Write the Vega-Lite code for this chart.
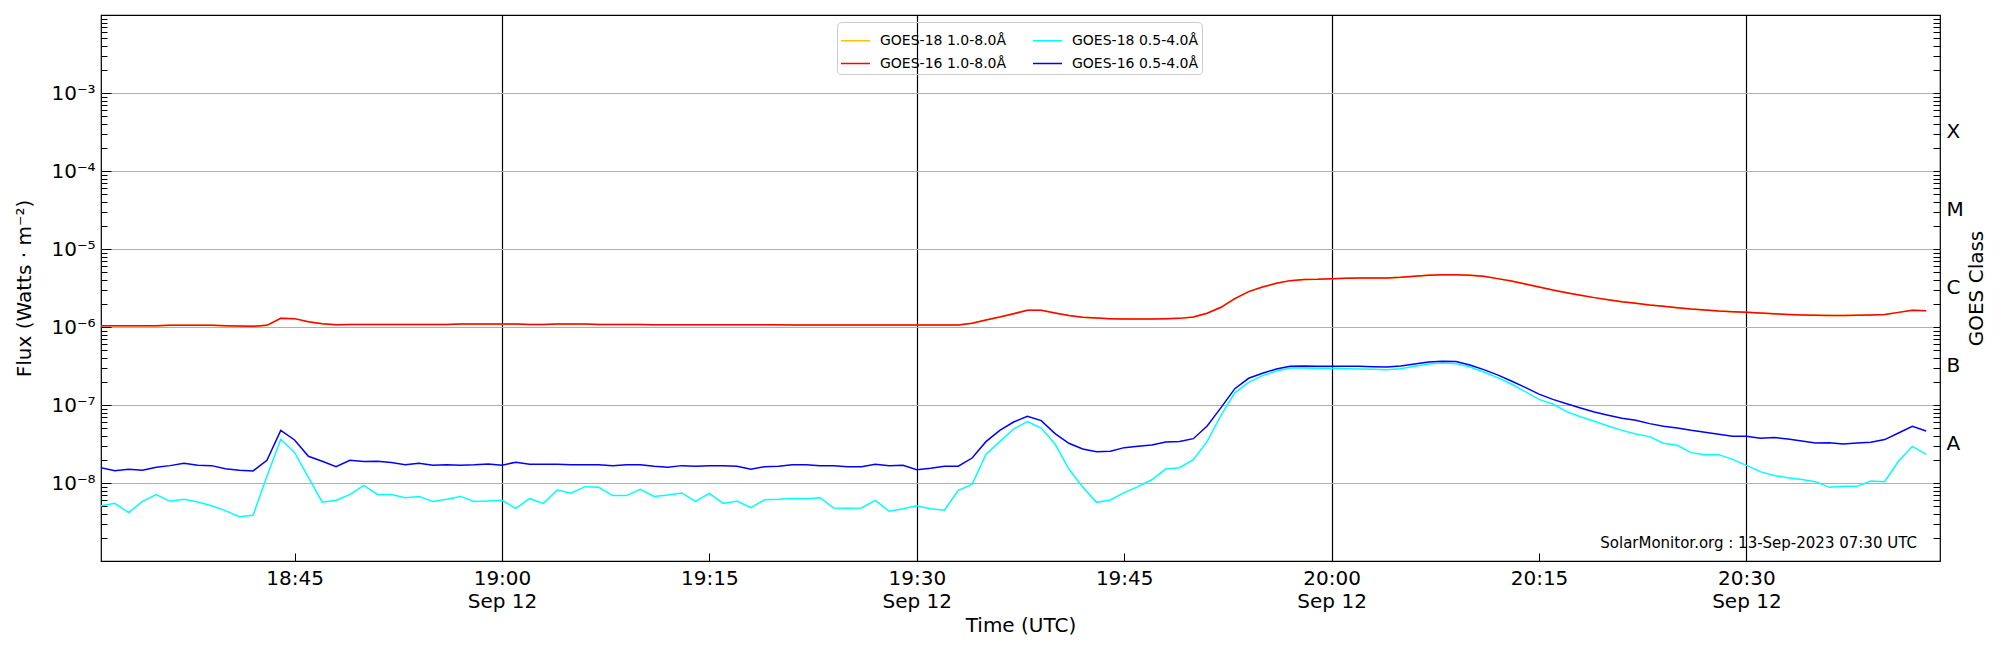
{
  "$schema": "https://vega.github.io/schema/vega-lite/v6.json",
  "width": 1839,
  "height": 546,
  "autosize": "none",
  "padding": {"left": 101, "top": 15, "right": 60, "bottom": 89},
  "background": "white",
  "config": {
    "font": "DejaVu Sans",
    "view": {"stroke": "black", "strokeWidth": 1.2},
    "axis": {
      "labelFont": "DejaVu Sans", "titleFont": "DejaVu Sans",
      "labelFontSize": 20, "titleFontSize": 20, "titleFontWeight": "normal",
      "labelColor": "black", "titleColor": "black", "tickColor": "black",
      "domain": false, "labelOverlap": false, "labelFlush": false
    }
  },
  "data": {
    "format": {"parse": {"t": "utc:'%Y-%m-%d %H:%M'"}},
    "values": [
      {"t":"2023-09-12 18:31","l16":1.04e-6,"s16":1.57e-8,"s18":5.12e-9},
      {"t":"2023-09-12 18:32","l16":1.04e-6,"s16":1.44e-8,"s18":5.48e-9},
      {"t":"2023-09-12 18:33","l16":1.04e-6,"s16":1.50e-8,"s18":4.17e-9},
      {"t":"2023-09-12 18:34","l16":1.04e-6,"s16":1.46e-8,"s18":5.82e-9},
      {"t":"2023-09-12 18:35","l16":1.04e-6,"s16":1.59e-8,"s18":7.08e-9},
      {"t":"2023-09-12 18:36","l16":1.05e-6,"s16":1.67e-8,"s18":5.82e-9},
      {"t":"2023-09-12 18:37","l16":1.05e-6,"s16":1.79e-8,"s18":6.18e-9},
      {"t":"2023-09-12 18:38","l16":1.05e-6,"s16":1.69e-8,"s18":5.72e-9},
      {"t":"2023-09-12 18:39","l16":1.05e-6,"s16":1.67e-8,"s18":5.10e-9},
      {"t":"2023-09-12 18:40","l16":1.04e-6,"s16":1.52e-8,"s18":4.42e-9},
      {"t":"2023-09-12 18:41","l16":1.03e-6,"s16":1.46e-8,"s18":3.70e-9},
      {"t":"2023-09-12 18:42","l16":1.02e-6,"s16":1.43e-8,"s18":3.85e-9},
      {"t":"2023-09-12 18:43","l16":1.05e-6,"s16":1.95e-8,"s18":1.22e-8},
      {"t":"2023-09-12 18:44","l16":1.29e-6,"s16":4.73e-8,"s18":3.63e-8},
      {"t":"2023-09-12 18:45","l16":1.28e-6,"s16":3.56e-8,"s18":2.47e-8},
      {"t":"2023-09-12 18:46","l16":1.17e-6,"s16":2.20e-8,"s18":1.18e-8},
      {"t":"2023-09-12 18:47","l16":1.10e-6,"s16":1.90e-8,"s18":5.68e-9},
      {"t":"2023-09-12 18:48","l16":1.07e-6,"s16":1.62e-8,"s18":6.00e-9},
      {"t":"2023-09-12 18:49","l16":1.08e-6,"s16":1.95e-8,"s18":7.08e-9},
      {"t":"2023-09-12 18:50","l16":1.08e-6,"s16":1.88e-8,"s18":9.33e-9},
      {"t":"2023-09-12 18:51","l16":1.08e-6,"s16":1.90e-8,"s18":7.13e-9},
      {"t":"2023-09-12 18:52","l16":1.08e-6,"s16":1.83e-8,"s18":7.13e-9},
      {"t":"2023-09-12 18:53","l16":1.08e-6,"s16":1.71e-8,"s18":6.49e-9},
      {"t":"2023-09-12 18:54","l16":1.08e-6,"s16":1.79e-8,"s18":6.73e-9},
      {"t":"2023-09-12 18:55","l16":1.08e-6,"s16":1.69e-8,"s18":5.78e-9},
      {"t":"2023-09-12 18:56","l16":1.08e-6,"s16":1.72e-8,"s18":6.18e-9},
      {"t":"2023-09-12 18:57","l16":1.09e-6,"s16":1.69e-8,"s18":6.73e-9},
      {"t":"2023-09-12 18:58","l16":1.09e-6,"s16":1.71e-8,"s18":5.78e-9},
      {"t":"2023-09-12 18:59","l16":1.09e-6,"s16":1.75e-8,"s18":5.88e-9},
      {"t":"2023-09-12 19:00","l16":1.09e-6,"s16":1.69e-8,"s18":6.00e-9},
      {"t":"2023-09-12 19:01","l16":1.09e-6,"s16":1.85e-8,"s18":4.73e-9},
      {"t":"2023-09-12 19:02","l16":1.08e-6,"s16":1.74e-8,"s18":6.29e-9},
      {"t":"2023-09-12 19:03","l16":1.08e-6,"s16":1.74e-8,"s18":5.48e-9},
      {"t":"2023-09-12 19:04","l16":1.09e-6,"s16":1.74e-8,"s18":8.13e-9},
      {"t":"2023-09-12 19:05","l16":1.09e-6,"s16":1.72e-8,"s18":7.38e-9},
      {"t":"2023-09-12 19:06","l16":1.09e-6,"s16":1.71e-8,"s18":8.98e-9},
      {"t":"2023-09-12 19:07","l16":1.08e-6,"s16":1.72e-8,"s18":8.80e-9},
      {"t":"2023-09-12 19:08","l16":1.08e-6,"s16":1.67e-8,"s18":6.89e-9},
      {"t":"2023-09-12 19:09","l16":1.08e-6,"s16":1.71e-8,"s18":6.89e-9},
      {"t":"2023-09-12 19:10","l16":1.08e-6,"s16":1.71e-8,"s18":8.30e-9},
      {"t":"2023-09-12 19:11","l16":1.07e-6,"s16":1.64e-8,"s18":6.73e-9},
      {"t":"2023-09-12 19:12","l16":1.07e-6,"s16":1.59e-8,"s18":7.00e-9},
      {"t":"2023-09-12 19:13","l16":1.07e-6,"s16":1.67e-8,"s18":7.45e-9},
      {"t":"2023-09-12 19:14","l16":1.07e-6,"s16":1.64e-8,"s18":5.82e-9},
      {"t":"2023-09-12 19:15","l16":1.07e-6,"s16":1.67e-8,"s18":7.38e-9},
      {"t":"2023-09-12 19:16","l16":1.07e-6,"s16":1.66e-8,"s18":5.48e-9},
      {"t":"2023-09-12 19:17","l16":1.07e-6,"s16":1.64e-8,"s18":5.88e-9},
      {"t":"2023-09-12 19:18","l16":1.07e-6,"s16":1.50e-8,"s18":4.83e-9},
      {"t":"2023-09-12 19:19","l16":1.07e-6,"s16":1.62e-8,"s18":6.10e-9},
      {"t":"2023-09-12 19:20","l16":1.07e-6,"s16":1.64e-8,"s18":6.18e-9},
      {"t":"2023-09-12 19:21","l16":1.06e-6,"s16":1.71e-8,"s18":6.35e-9},
      {"t":"2023-09-12 19:22","l16":1.06e-6,"s16":1.72e-8,"s18":6.29e-9},
      {"t":"2023-09-12 19:23","l16":1.06e-6,"s16":1.67e-8,"s18":6.49e-9},
      {"t":"2023-09-12 19:24","l16":1.06e-6,"s16":1.66e-8,"s18":4.78e-9},
      {"t":"2023-09-12 19:25","l16":1.06e-6,"s16":1.61e-8,"s18":4.73e-9},
      {"t":"2023-09-12 19:26","l16":1.06e-6,"s16":1.62e-8,"s18":4.78e-9},
      {"t":"2023-09-12 19:27","l16":1.06e-6,"s16":1.74e-8,"s18":6.00e-9},
      {"t":"2023-09-12 19:28","l16":1.06e-6,"s16":1.67e-8,"s18":4.34e-9},
      {"t":"2023-09-12 19:29","l16":1.06e-6,"s16":1.69e-8,"s18":4.68e-9},
      {"t":"2023-09-12 19:30","l16":1.06e-6,"s16":1.48e-8,"s18":5.12e-9},
      {"t":"2023-09-12 19:31","l16":1.06e-6,"s16":1.55e-8,"s18":4.68e-9},
      {"t":"2023-09-12 19:32","l16":1.06e-6,"s16":1.64e-8,"s18":4.47e-9},
      {"t":"2023-09-12 19:33","l16":1.06e-6,"s16":1.64e-8,"s18":8.05e-9},
      {"t":"2023-09-12 19:34","l16":1.12e-6,"s16":2.09e-8,"s18":9.61e-9},
      {"t":"2023-09-12 19:35","l16":1.23e-6,"s16":3.39e-8,"s18":2.33e-8},
      {"t":"2023-09-12 19:36","l16":1.34e-6,"s16":4.73e-8,"s18":3.39e-8},
      {"t":"2023-09-12 19:37","l16":1.48e-6,"s16":6.05e-8,"s18":4.92e-8},
      {"t":"2023-09-12 19:38","l16":1.64e-6,"s16":7.16e-8,"s18":6.11e-8},
      {"t":"2023-09-12 19:39","l16":1.64e-6,"s16":6.30e-8,"s18":5.07e-8},
      {"t":"2023-09-12 19:40","l16":1.51e-6,"s16":4.29e-8,"s18":3.16e-8},
      {"t":"2023-09-12 19:41","l16":1.40e-6,"s16":3.23e-8,"s18":1.51e-8},
      {"t":"2023-09-12 19:42","l16":1.33e-6,"s16":2.73e-8,"s18":8.89e-9},
      {"t":"2023-09-12 19:43","l16":1.30e-6,"s16":2.52e-8,"s18":5.65e-9},
      {"t":"2023-09-12 19:44","l16":1.28e-6,"s16":2.56e-8,"s18":6.05e-9},
      {"t":"2023-09-12 19:45","l16":1.27e-6,"s16":2.84e-8,"s18":7.52e-9},
      {"t":"2023-09-12 19:46","l16":1.27e-6,"s16":2.95e-8,"s18":8.98e-9},
      {"t":"2023-09-12 19:47","l16":1.27e-6,"s16":3.07e-8,"s18":1.10e-8},
      {"t":"2023-09-12 19:48","l16":1.28e-6,"s16":3.36e-8,"s18":1.51e-8},
      {"t":"2023-09-12 19:49","l16":1.29e-6,"s16":3.40e-8,"s18":1.57e-8},
      {"t":"2023-09-12 19:50","l16":1.34e-6,"s16":3.70e-8,"s18":1.99e-8},
      {"t":"2023-09-12 19:51","l16":1.50e-6,"s16":5.38e-8,"s18":3.42e-8},
      {"t":"2023-09-12 19:52","l16":1.79e-6,"s16":9.25e-8,"s18":7.38e-8},
      {"t":"2023-09-12 19:53","l16":2.31e-6,"s16":1.62e-7,"s18":1.43e-7},
      {"t":"2023-09-12 19:54","l16":2.84e-6,"s16":2.20e-7,"s18":1.95e-7},
      {"t":"2023-09-12 19:55","l16":3.26e-6,"s16":2.55e-7,"s18":2.38e-7},
      {"t":"2023-09-12 19:56","l16":3.63e-6,"s16":2.90e-7,"s18":2.73e-7},
      {"t":"2023-09-12 19:57","l16":3.93e-6,"s16":3.13e-7,"s18":2.98e-7},
      {"t":"2023-09-12 19:58","l16":4.05e-6,"s16":3.17e-7,"s18":2.98e-7},
      {"t":"2023-09-12 19:59","l16":4.09e-6,"s16":3.13e-7,"s18":2.95e-7},
      {"t":"2023-09-12 20:00","l16":4.17e-6,"s16":3.13e-7,"s18":2.95e-7},
      {"t":"2023-09-12 20:01","l16":4.21e-6,"s16":3.13e-7,"s18":2.92e-7},
      {"t":"2023-09-12 20:02","l16":4.25e-6,"s16":3.13e-7,"s18":2.89e-7},
      {"t":"2023-09-12 20:03","l16":4.25e-6,"s16":3.10e-7,"s18":2.87e-7},
      {"t":"2023-09-12 20:04","l16":4.25e-6,"s16":3.07e-7,"s18":2.84e-7},
      {"t":"2023-09-12 20:05","l16":4.33e-6,"s16":3.17e-7,"s18":2.92e-7},
      {"t":"2023-09-12 20:06","l16":4.46e-6,"s16":3.36e-7,"s18":3.13e-7},
      {"t":"2023-09-12 20:07","l16":4.60e-6,"s16":3.56e-7,"s18":3.36e-7},
      {"t":"2023-09-12 20:08","l16":4.69e-6,"s16":3.63e-7,"s18":3.45e-7},
      {"t":"2023-09-12 20:09","l16":4.69e-6,"s16":3.60e-7,"s18":3.39e-7},
      {"t":"2023-09-12 20:10","l16":4.60e-6,"s16":3.26e-7,"s18":3.07e-7},
      {"t":"2023-09-12 20:11","l16":4.46e-6,"s16":2.84e-7,"s18":2.65e-7},
      {"t":"2023-09-12 20:12","l16":4.17e-6,"s16":2.43e-7,"s18":2.24e-7},
      {"t":"2023-09-12 20:13","l16":3.89e-6,"s16":2.03e-7,"s18":1.86e-7},
      {"t":"2023-09-12 20:14","l16":3.56e-6,"s16":1.68e-7,"s18":1.48e-7},
      {"t":"2023-09-12 20:15","l16":3.26e-6,"s16":1.38e-7,"s18":1.18e-7},
      {"t":"2023-09-12 20:16","l16":2.98e-6,"s16":1.18e-7,"s18":1.03e-7},
      {"t":"2023-09-12 20:17","l16":2.75e-6,"s16":1.04e-7,"s18":8.22e-8},
      {"t":"2023-09-12 20:18","l16":2.55e-6,"s16":9.16e-8,"s18":7.08e-8},
      {"t":"2023-09-12 20:19","l16":2.38e-6,"s16":8.13e-8,"s18":6.18e-8},
      {"t":"2023-09-12 20:20","l16":2.24e-6,"s16":7.38e-8,"s18":5.38e-8},
      {"t":"2023-09-12 20:21","l16":2.11e-6,"s16":6.75e-8,"s18":4.73e-8},
      {"t":"2023-09-12 20:22","l16":2.01e-6,"s16":6.36e-8,"s18":4.25e-8},
      {"t":"2023-09-12 20:23","l16":1.91e-6,"s16":5.77e-8,"s18":3.93e-8},
      {"t":"2023-09-12 20:24","l16":1.84e-6,"s16":5.33e-8,"s18":3.23e-8},
      {"t":"2023-09-12 20:25","l16":1.77e-6,"s16":5.07e-8,"s18":3.04e-8},
      {"t":"2023-09-12 20:26","l16":1.70e-6,"s16":4.73e-8,"s18":2.45e-8},
      {"t":"2023-09-12 20:27","l16":1.65e-6,"s16":4.46e-8,"s18":2.31e-8},
      {"t":"2023-09-12 20:28","l16":1.60e-6,"s16":4.21e-8,"s18":2.31e-8},
      {"t":"2023-09-12 20:29","l16":1.57e-6,"s16":3.97e-8,"s18":2.01e-8},
      {"t":"2023-09-12 20:30","l16":1.54e-6,"s16":3.97e-8,"s18":1.68e-8},
      {"t":"2023-09-12 20:31","l16":1.51e-6,"s16":3.74e-8,"s18":1.40e-8},
      {"t":"2023-09-12 20:32","l16":1.48e-6,"s16":3.84e-8,"s18":1.25e-8},
      {"t":"2023-09-12 20:33","l16":1.45e-6,"s16":3.66e-8,"s18":1.17e-8},
      {"t":"2023-09-12 20:34","l16":1.43e-6,"s16":3.45e-8,"s18":1.11e-8},
      {"t":"2023-09-12 20:35","l16":1.41e-6,"s16":3.26e-8,"s18":1.04e-8},
      {"t":"2023-09-12 20:36","l16":1.40e-6,"s16":3.29e-8,"s18":8.80e-9},
      {"t":"2023-09-12 20:37","l16":1.40e-6,"s16":3.16e-8,"s18":9.06e-9},
      {"t":"2023-09-12 20:38","l16":1.41e-6,"s16":3.26e-8,"s18":9.06e-9},
      {"t":"2023-09-12 20:39","l16":1.43e-6,"s16":3.33e-8,"s18":1.06e-8},
      {"t":"2023-09-12 20:40","l16":1.45e-6,"s16":3.60e-8,"s18":1.04e-8},
      {"t":"2023-09-12 20:41","l16":1.54e-6,"s16":4.38e-8,"s18":1.90e-8},
      {"t":"2023-09-12 20:42","l16":1.64e-6,"s16":5.33e-8,"s18":2.95e-8},
      {"t":"2023-09-12 20:43","l16":1.62e-6,"s16":4.64e-8,"s18":2.33e-8}
    ]
  },
  "layer": [
    {
      "mark": {"type": "line", "strokeWidth": 1.5, "clip": true},
      "encoding": {
        "x": {
          "field": "t", "type": "temporal",
          "scale": {"type": "utc", "domain": [
            {"year": 2023, "month": 9, "date": 12, "hours": 18, "minutes": 31, "utc": true},
            {"year": 2023, "month": 9, "date": 12, "hours": 20, "minutes": 44, "utc": true}
          ]},
          "axis": {
            "orient": "bottom",
            "values": [
              {"year": 2023, "month": 9, "date": 12, "hours": 18, "minutes": 45, "utc": true},
              {"year": 2023, "month": 9, "date": 12, "hours": 19, "minutes": 0, "utc": true},
              {"year": 2023, "month": 9, "date": 12, "hours": 19, "minutes": 15, "utc": true},
              {"year": 2023, "month": 9, "date": 12, "hours": 19, "minutes": 30, "utc": true},
              {"year": 2023, "month": 9, "date": 12, "hours": 19, "minutes": 45, "utc": true},
              {"year": 2023, "month": 9, "date": 12, "hours": 20, "minutes": 0, "utc": true},
              {"year": 2023, "month": 9, "date": 12, "hours": 20, "minutes": 15, "utc": true},
              {"year": 2023, "month": 9, "date": 12, "hours": 20, "minutes": 30, "utc": true}
            ],
            "grid": false,
            "tickSize": -8,
            "labelPadding": 15,
            "labelLineHeight": 23,
            "labelExpr": "[utcFormat(datum.value, '%H:%M'), utcminutes(datum.value) % 30 == 0 ? 'Sep 12' : '']",
            "title": "Time (UTC)",
            "titleY": 64,
            "titleBaseline": "middle"
          }
        },
        "y": {
          "field": "l16", "type": "quantitative",
          "scale": {"type": "log", "domain": [1e-9, 1e-2], "nice": false, "zero": false},
          "axis": {
            "orient": "left",
            "values": [1e-8, 1e-7, 1e-6, 1e-5, 1e-4, 1e-3],
            "labelExpr": "'10⁻' + ['⁰','¹','²','³','⁴','⁵','⁶','⁷','⁸','⁹'][round(-log(datum.value)/LN10)]",
            "grid": true, "gridColor": "#b0b0b0", "gridWidth": 1,
            "tickSize": -10,
            "labelPadding": 16,
            "title": "Flux (Watts · m⁻²)",
            "titleX": -77, "titleY": 273, "titleAngle": 270,
            "titleAlign": "center", "titleBaseline": "middle"
          }
        },
        "color": {
          "datum": "GOES-18 1.0-8.0Å", "type": "nominal",
          "scale": {
            "domain": ["GOES-18 1.0-8.0Å", "GOES-16 1.0-8.0Å", "GOES-18 0.5-4.0Å", "GOES-16 0.5-4.0Å"],
            "range": ["#FFC400", "#FF0000", "#00FFFF", "#0000FF"]
          },
          "legend": {
            "title": null, "orient": "none", "legendX": 736, "legendY": 7,
            "columns": 2, "symbolType": "stroke", "symbolSize": 841, "symbolStrokeWidth": 1.5,
            "labelFont": "DejaVu Sans", "labelFontSize": 14, "labelColor": "black",
            "labelOffset": 9, "columnPadding": 23, "rowPadding": -6, "padding": 3,
            "strokeColor": "#cccccc", "cornerRadius": 4
          }
        }
      }
    },
    {
      "mark": {"type": "line", "strokeWidth": 1.5, "clip": true},
      "encoding": {
        "x": {
          "field": "t", "type": "temporal",
          "axis": {
            "orient": "bottom",
            "values": [
              {"year": 2023, "month": 9, "date": 12, "hours": 19, "minutes": 0, "utc": true},
              {"year": 2023, "month": 9, "date": 12, "hours": 19, "minutes": 30, "utc": true},
              {"year": 2023, "month": 9, "date": 12, "hours": 20, "minutes": 0, "utc": true},
              {"year": 2023, "month": 9, "date": 12, "hours": 20, "minutes": 30, "utc": true}
            ],
            "grid": true, "gridColor": "black", "gridWidth": 1.2,
            "ticks": false, "labels": false, "title": null
          }
        },
        "y": {
          "field": "l16", "type": "quantitative",
          "axis": {
            "orient": "left",
            "values": [2e-9,3e-9,4e-9,5e-9,6e-9,7e-9,8e-9,9e-9,2e-8,3e-8,4e-8,5e-8,6e-8,7e-8,8e-8,9e-8,2e-7,3e-7,4e-7,5e-7,6e-7,7e-7,8e-7,9e-7,2e-6,3e-6,4e-6,5e-6,6e-6,7e-6,8e-6,9e-6,2e-5,3e-5,4e-5,5e-5,6e-5,7e-5,8e-5,9e-5,2e-4,3e-4,4e-4,5e-4,6e-4,7e-4,8e-4,9e-4,2e-3,3e-3,4e-3,5e-3,6e-3,7e-3,8e-3,9e-3],
            "grid": false, "labels": false, "tickSize": -6, "title": null
          }
        },
        "color": {"datum": "GOES-16 1.0-8.0Å", "type": "nominal"}
      }
    },
    {
      "mark": {"type": "line", "strokeWidth": 1.5, "clip": true},
      "encoding": {
        "x": {"field": "t", "type": "temporal", "axis": null},
        "y": {
          "field": "s18", "type": "quantitative",
          "axis": {
            "orient": "right",
            "values": [2e-9,3e-9,4e-9,5e-9,6e-9,7e-9,8e-9,9e-9,1e-8,2e-8,3e-8,4e-8,5e-8,6e-8,7e-8,8e-8,9e-8,1e-7,2e-7,3e-7,4e-7,5e-7,6e-7,7e-7,8e-7,9e-7,1e-6,2e-6,3e-6,4e-6,5e-6,6e-6,7e-6,8e-6,9e-6,1e-5,2e-5,3e-5,4e-5,5e-5,6e-5,7e-5,8e-5,9e-5,1e-4,2e-4,3e-4,4e-4,5e-4,6e-4,7e-4,8e-4,9e-4,1e-3,2e-3,3e-3,4e-3,5e-3,6e-3,7e-3,8e-3,9e-3],
            "grid": false, "labels": false, "tickSize": -7, "title": null
          }
        },
        "color": {"datum": "GOES-18 0.5-4.0Å", "type": "nominal"}
      }
    },
    {
      "mark": {"type": "line", "strokeWidth": 1.5, "clip": true},
      "encoding": {
        "x": {"field": "t", "type": "temporal", "axis": null},
        "y": {
          "field": "s16", "type": "quantitative",
          "axis": {
            "orient": "right",
            "values": [3.1623e-4, 3.1623e-5, 3.1623e-6, 3.1623e-7, 3.1623e-8],
            "labelExpr": "datum.value > 1e-4 ? 'X' : datum.value > 1e-5 ? 'M' : datum.value > 1e-6 ? 'C' : datum.value > 1e-7 ? 'B' : 'A'",
            "grid": false, "ticks": false, "labelPadding": 6, "labelAlign": "left",
            "title": "GOES Class",
            "titleX": 36, "titleY": 273, "titleAngle": 270,
            "titleAlign": "center", "titleBaseline": "middle"
          }
        },
        "color": {"datum": "GOES-16 0.5-4.0Å", "type": "nominal"}
      }
    },
    {
      "data": {"values": [{"t": "2023-09-12T20:42:20Z", "f": 1.7e-9, "label": "SolarMonitor.org : 13-Sep-2023 07:30 UTC"}]},
      "mark": {"type": "text", "align": "right", "baseline": "middle", "font": "DejaVu Sans", "fontSize": 15, "color": "black"},
      "encoding": {
        "x": {"field": "t", "type": "temporal", "axis": null},
        "y": {"field": "f", "type": "quantitative", "axis": null},
        "text": {"field": "label"}
      }
    }
  ],
  "resolve": {"axis": {"x": "independent", "y": "independent"}}
}
